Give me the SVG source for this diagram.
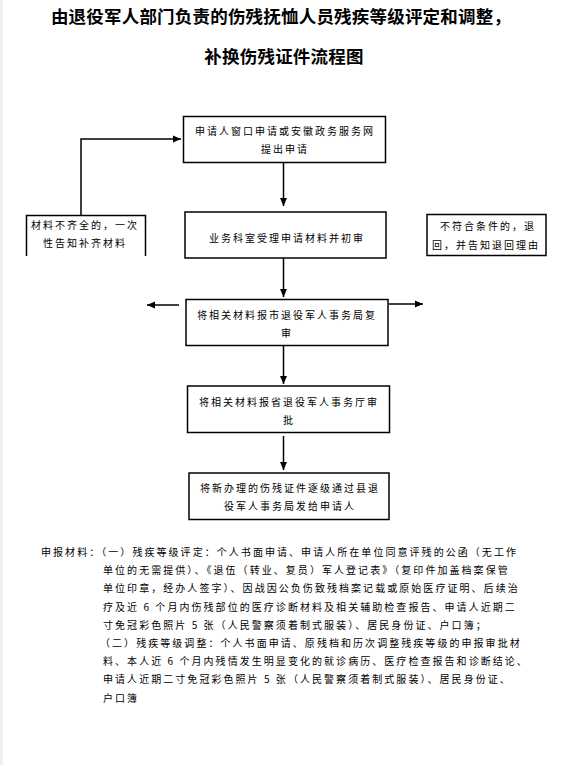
<svg xmlns="http://www.w3.org/2000/svg" width="561" height="765" viewBox="0 0 561 765">
<style>
.title{font-family:"Noto Sans CJK SC",sans-serif;font-weight:bold;font-size:17.5px;letter-spacing:0.2px;fill:#000;text-anchor:middle}
.bt{font-family:"Noto Sans CJK SC",sans-serif;font-size:10px;letter-spacing:2px;fill:#000;text-anchor:middle}
.body{font-family:"Noto Sans CJK SC",sans-serif;font-size:10px;letter-spacing:2.05px;fill:#000}
.box{fill:#fff;stroke:#000;stroke-width:1.5}
.ln{fill:none;stroke:#000;stroke-width:1.5}
</style>
<defs>
<marker id="ah" markerUnits="userSpaceOnUse" markerWidth="8" markerHeight="8" refX="8" refY="4" orient="auto">
<path d="M0,0.5 L8,4 L0,7.5 z" fill="#000"/>
</marker>
</defs>
<rect x="0" y="0" width="561" height="765" fill="#fff"/>
<rect x="0" y="0" width="3" height="765" fill="#eef0f2"/>
<g id="title">
<text class="title" x="281" y="23">由退役军人部门负责的伤残抚恤人员残疾等级评定和调整，</text>
<text class="title" x="284" y="63">补换伤残证件流程图</text>
</g>
<g id="connectors">
<path class="ln" d="M81,215 L81,139 L181,139" marker-end="url(#ah)"/>
<path class="ln" d="M283.5,163 L283.5,206" marker-end="url(#ah)"/>
<path class="ln" d="M283.5,258 L283.5,297" marker-end="url(#ah)"/>
<path class="ln" d="M179,305 L147,305" marker-end="url(#ah)"/>
<path class="ln" d="M389,304 L423,304" marker-end="url(#ah)"/>
<path class="ln" d="M283.5,346 L283.5,384" marker-end="url(#ah)"/>
<path class="ln" d="M283.5,436 L283.5,470" marker-end="url(#ah)"/>
</g>
<g id="n1">
<rect class="box" x="183.5" y="116.5" width="202" height="46"/>
<text class="bt" x="285" y="134.5">申请人窗口申请或安徽政务服务网</text>
<text class="bt" x="285" y="153">提出申请</text>
</g>
<g id="n_left">
<path class="ln" d="M26.5,256 L26.5,215.5 L145.5,215.5 L145.5,256"/>
<text class="bt" x="85" y="229">材料不齐全的，一次</text>
<text class="bt" x="85" y="247">性告知补齐材料</text>
</g>
<g id="n2">
<rect class="box" x="185" y="212" width="201" height="46"/>
<text class="bt" x="287" y="242">业务科室受理申请材料并初审</text>
</g>
<g id="n_right">
<rect class="box" x="427" y="214.5" width="119" height="41"/>
<text class="bt" x="488" y="230">不符合条件的，退</text>
<text class="bt" x="486" y="249">回，并告知退回理由</text>
</g>
<g id="n3">
<rect class="box" x="186" y="299.5" width="202" height="46"/>
<text class="bt" x="287" y="319">将相关材料报市退役军人事务局复</text>
<text class="bt" x="287" y="336.5">审</text>
</g>
<g id="n4">
<rect class="box" x="187.5" y="386" width="202" height="46.5"/>
<text class="bt" x="289" y="405.5">将相关材料报省退役军人事务厅审</text>
<text class="bt" x="289" y="424">批</text>
</g>
<g id="n5">
<rect class="box" x="189" y="473" width="200" height="46.5"/>
<text class="bt" x="290" y="492">将新办理的伤残证件逐级通过县退</text>
<text class="bt" x="290" y="510">役军人事务局发给申请人</text>
</g>
<g id="notes">
<text class="body" x="41" y="556">申报材料：（一）残疾等级评定：个人书面申请、申请人所在单位同意评残的公函（无工作</text>
<text class="body" x="103" y="574.2">单位的无需提供）、《退伍（转业、复员）军人登记表》（复印件加盖档案保管</text>
<text class="body" x="103" y="592.4">单位印章，经办人签字）、因战因公负伤致残档案记载或原始医疗证明、后续治</text>
<text class="body" x="103" y="610.6">疗及近 6 个月内伤残部位的医疗诊断材料及相关辅助检查报告、申请人近期二</text>
<text class="body" x="103" y="628.8">寸免冠彩色照片 5 张（人民警察须着制式服装）、居民身份证、户口簿；</text>
<text class="body" x="100" y="647">（二）残疾等级调整：个人书面申请、原残档和历次调整残疾等级的申报审批材</text>
<text class="body" x="103" y="665.2">料、本人近 6 个月内残情发生明显变化的就诊病历、医疗检查报告和诊断结论、</text>
<text class="body" x="103" y="683.4">申请人近期二寸免冠彩色照片 5 张（人民警察须着制式服装）、居民身份证、</text>
<text class="body" x="103" y="701.6">户口簿</text>
</g>
</svg>
